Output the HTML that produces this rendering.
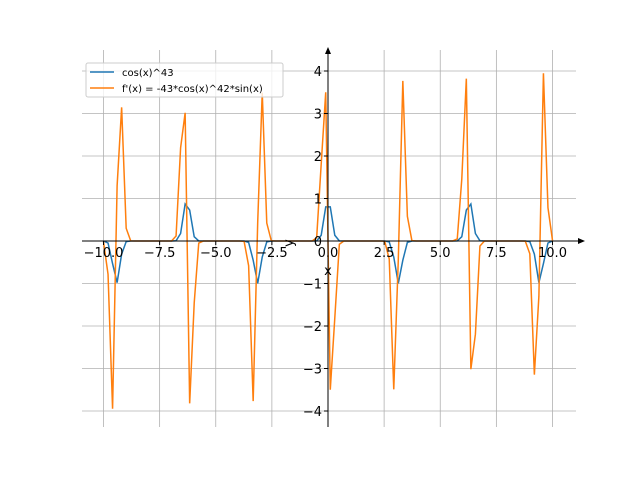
<!DOCTYPE html><html><head><style>body{margin:0;background:#fff}svg{display:block;font-family:"DejaVu Sans",sans-serif}</style></head><body>
<svg id="s" width="640" height="480" xmlns="http://www.w3.org/2000/svg"></svg>
<script>
const s=document.getElementById('s');
const X=v=>328+v*22.45, Y=v=>241-v*42.5;
let h='';
for(const t of [-10,-7.5,-5,-2.5,0,2.5,5,7.5,10]){h+=`<line x1="${X(t)}" y1="50" x2="${X(t)}" y2="427" stroke="#b0b0b0" stroke-width="0.8"/>`;}
for(let t=-4;t<=4;t++){h+=`<line x1="82" y1="${Y(t)}" x2="576" y2="${Y(t)}" stroke="#b0b0b0" stroke-width="0.8"/>`;}
let p1='',p2='';
for(let i=0;i<100;i++){const x=-10+20*i/99;const c=Math.cos(x),sn=Math.sin(x);
const f=Math.pow(c,43),d=-43*Math.pow(c,42)*sn;
p1+=(i?'L':'M')+X(x).toFixed(2)+','+Y(f).toFixed(2);p2+=(i?'L':'M')+X(x).toFixed(2)+','+Y(d).toFixed(2);}
h+=`<path d="${p1}" fill="none" stroke="#1f77b4" stroke-width="1.5"/>`;
h+=`<path d="${p2}" fill="none" stroke="#ff7f0e" stroke-width="1.5"/>`;
h+=`<line x1="82" y1="241" x2="583" y2="241" stroke="#000" stroke-width="1"/><path d="M585,241 L578,238 L578,244Z" fill="#000"/>`;
h+=`<line x1="328" y1="427" x2="328" y2="50" stroke="#000" stroke-width="1"/><path d="M328,47 L325,54 L331,54Z" fill="#000"/>`;
for(const t of [-10,-7.5,-5,-2.5,0,2.5,5,7.5,10]){h+=`<line x1="${X(t)}" y1="241" x2="${X(t)}" y2="245" stroke="#000"/><text x="${X(t)}" y="257" font-size="13" text-anchor="middle">${t.toFixed(1).replace('-','\u2212')}</text>`;}
for(let t=-4;t<=4;t++){h+=`<line x1="324" y1="${Y(t)}" x2="328" y2="${Y(t)}" stroke="#000"/><text x="322" y="${Y(t)+5}" font-size="13" text-anchor="end">${String(t).replace('-','\u2212')}</text>`;}
h+=`<text x="328" y="275" font-size="13" text-anchor="middle">x</text>`;
h+=`<text x="290" y="246" font-size="13" text-anchor="middle" transform="rotate(-90 290 243)">y</text>`;
h+=`<rect x="86" y="63" width="197" height="34" fill="#fff" fill-opacity="0.8" stroke="#ccc" rx="2"/>`;
h+=`<line x1="90" y1="72" x2="114" y2="72" stroke="#1f77b4" stroke-width="1.5"/><text x="122" y="76" font-size="10">cos(x)^43</text>`;
h+=`<line x1="90" y1="88" x2="114" y2="88" stroke="#ff7f0e" stroke-width="1.5"/><text x="122" y="92" font-size="10">f'(x) = -43*cos(x)^42*sin(x)</text>`;
s.innerHTML=h;
</script></body></html>
